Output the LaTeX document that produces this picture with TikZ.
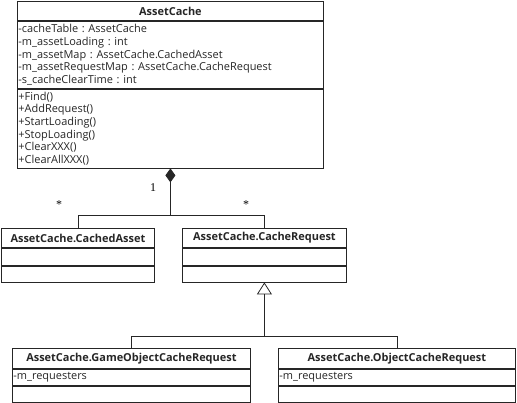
\documentclass[tikz,border=0pt]{standalone}
\usepackage{fontspec}
\setmainfont{Open Sans}
\newfontfamily\multfont{Liberation Serif}
\usetikzlibrary{arrows.meta}
\frenchspacing

\tikzset{
    umlline/.style={line width=0.8bp, black!85},
    title/.style={draw, umlline, anchor=north west, inner sep=0pt, font=\fontsize{11}{12.7}\selectfont\bfseries},
    part/.style={draw, umlline, anchor=north west, inner xsep=1bp, inner ysep=0pt, align=left, font=\fontsize{11}{12.7}\selectfont},
    mult/.style={inner sep=0pt, font=\fontsize{12}{12}\multfont},
    compose/.style={umlline, {Diamond[length=14bp,width=10bp]}-},
    inherit/.style={umlline, {Triangle[open,length=12bp,width=15bp]}-}
}

\begin{document}
\begin{tikzpicture}[x=1bp, y=-1bp]
    \useasboundingbox (0,0) rectangle (517,402);
    % AssetCache
    \node[title, minimum width=306bp, minimum height=19bp] (acH) at (17,1) {AssetCache};
    \node[part, text width=304bp, minimum height=67bp] (acA) at (acH.south west) {-cacheTable : AssetCache\\-m\_assetLoading : int\\-m\_assetMap : AssetCache.CachedAsset\\-m\_assetRequestMap : AssetCache.CacheRequest\\-s\_cacheClearTime : int};
    \node[part, text width=304bp, minimum height=79bp] (acM) at (acA.south west) {+Find()\\+AddRequest()\\+StartLoading()\\+StopLoading()\\+ClearXXX()\\+ClearAllXXX()};
    % CachedAsset
    \node[title, minimum width=153bp, minimum height=19bp] (caH) at (1,228) {AssetCache.CachedAsset};
    \node[part, text width=151bp, minimum height=17bp] (caA) at (caH.south west) {};
    \node[part, text width=151bp, minimum height=16bp] (caM) at (caA.south west) {};
    % CacheRequest
    \node[title, minimum width=164bp, minimum height=19bp] (crH) at (182,228) {AssetCache.CacheRequest};
    \node[part, text width=162bp, minimum height=17bp] (crA) at (crH.south west) {};
    \node[part, text width=162bp, minimum height=16bp] (crM) at (crA.south west) {};
    % GameObjectCacheRequest
    \node[title, minimum width=238bp, minimum height=20bp] (grH) at (12,348) {AssetCache.GameObjectCacheRequest};
    \node[part, text width=236bp, minimum height=16bp] (grA) at (grH.south west) {-m\_requesters};
    \node[part, text width=236bp, minimum height=16bp] (grM) at (grA.south west) {};
    % ObjectCacheRequest
    \node[title, minimum width=237bp, minimum height=20bp] (orH) at (278,348) {AssetCache.ObjectCacheRequest};
    \node[part, text width=235bp, minimum height=16bp] (orA) at (orH.south west) {-m\_requesters};
    \node[part, text width=235bp, minimum height=16bp] (orM) at (orA.south west) {};
    % composition
    \draw[compose] (acM.south) -- ++(0,47) coordinate (jc);
    \draw[umlline] (jc) -| (caH.north);
    \draw[umlline] (jc) -| (crH.north);
    \node[mult] (m1) at (153,188) {1};
    \node[mult] (m2) at (59,205) {*};
    \node[mult] (m3) at (246,205) {*};
    % generalization
    \draw[inherit] (crM.south) -- ++(0,54) coordinate (jg);
    \draw[umlline] (jg) -| (grH.north);
    \draw[umlline] (jg) -| (orH.north);
\end{tikzpicture}
\end{document}
